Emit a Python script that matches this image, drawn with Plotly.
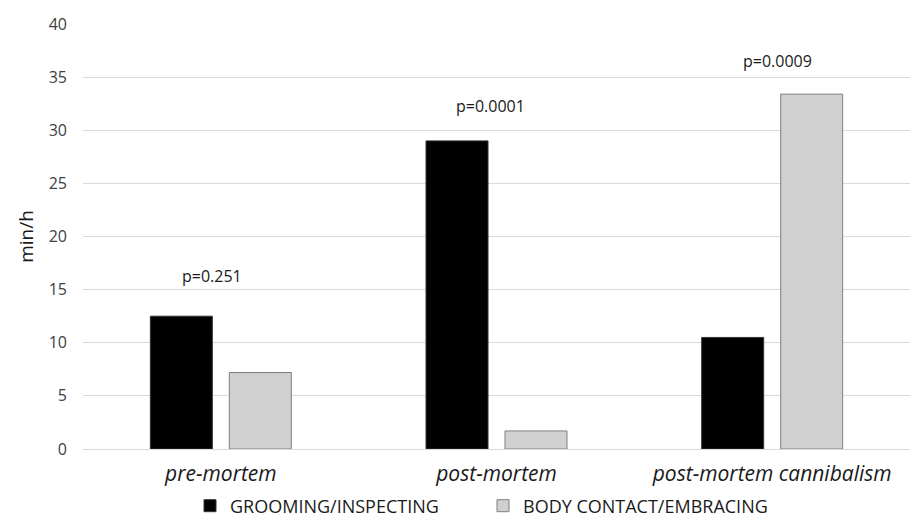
import plotly.graph_objects as go

categories = ["pre-mortem", "post-mortem", "post-mortem cannibalism"]
grooming = [12.5, 29.0, 10.5]
body_contact = [7.2, 1.7, 33.4]
p_labels = ["p=0.251", "p=0.0001", "p=0.0009"]
p_label_y = [16.3, 32.3, 36.5]
y_ticks = [0, 5, 10, 15, 20, 25, 30, 35, 40]

# horizontal nudges of the p-value labels (pixels)
p_xshift = [-9, -6, 5]

FONT = "'Open Sans', Lato, sans-serif"

fig = go.Figure()
fig.add_trace(go.Bar(
    x=categories, y=grooming, name="GROOMING/INSPECTING",
    marker=dict(color="#000000", line=dict(color="#333333", width=1)),
))
fig.add_trace(go.Bar(
    x=categories, y=body_contact, name="BODY CONTACT/EMBRACING",
    marker=dict(color="#d0d0d0", line=dict(color="#7f7f7f", width=1)),
))

for i, (lab, yv, xs) in enumerate(zip(p_labels, p_label_y, p_xshift)):
    fig.add_annotation(
        x=i, y=yv, xref="x", yref="y", text=lab, showarrow=False,
        xshift=xs, font=dict(family=FONT, size=16, color="#1a1a1a"),
    )

fig.update_layout(
    width=918, height=517,
    margin=dict(l=83, r=8, t=24, b=68, autoexpand=False),
    paper_bgcolor="white", plot_bgcolor="white",
    barmode="group", bargap=0.427, bargroupgap=0.215,
    font=dict(family=FONT, color="#1a1a1a"),
    showlegend=True,
    legend=dict(
        orientation="h", xref="container", yref="container",
        x=190 / 918, xanchor="left", y=1 - 506 / 517, yanchor="middle",
        font=dict(family=FONT, size=18, color="#1a1a1a"),
        itemwidth=30, traceorder="normal",
        entrywidth=248, entrywidthmode="pixels",
    ),
)
fig.update_xaxes(
    tickfont=dict(family=FONT, size=21, style="italic", color="#1a1a1a"),
    showline=False, showgrid=False, ticks="", automargin=False,
    ticklabelstandoff=10,
)
fig.update_yaxes(
    range=[0, 40], tickvals=y_ticks, automargin=False,
    tickfont=dict(family=FONT, size=16, color="#404040"),
    showgrid=True, gridcolor="#d9d9d9", gridwidth=1,
    zeroline=True, zerolinecolor="#d9d9d9", zerolinewidth=1,
    showline=False, ticks="", ticklabelstandoff=15,
    title=dict(text="min/h", font=dict(family=FONT, size=19, color="#1a1a1a"), standoff=10),
)

fig.write_html(
    "out.html",
    config={"displayModeBar": False},
    post_script="document.body.style.margin='0px';",
)
